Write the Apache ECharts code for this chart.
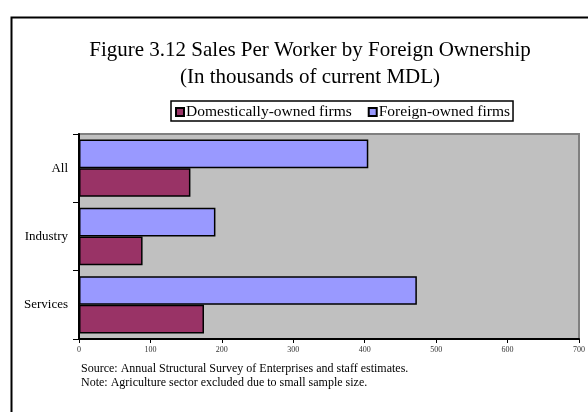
<!DOCTYPE html>
<html>
<head>
<meta charset="utf-8">
<script src="https://cdn.jsdelivr.net/npm/echarts@6/dist/echarts.min.js"></script>
<style>html,body{margin:0;padding:0;background:#fff;}#c{width:588px;height:412px;}</style>
</head>
<body>
<div id="c"></div>
<script>
const categories = ['Services', 'Industry', 'All'];
const domestic = [175, 89, 156];
const foreign = [473, 191, 405];
const xTicks = { min: 0, max: 700, interval: 100 };
const titleLines = ['Figure 3.12 Sales Per Worker by Foreign Ownership', '(In thousands of current MDL)'];
const notes = ['Source: Annual Structural Survey of Enterprises and staff estimates.', 'Note: Agriculture sector excluded due to small sample size.'];
const seriesNames = ['Domestically-owned firms', 'Foreign-owned firms'];

const serif = '"Liberation Serif", "Times New Roman", serif';
const chart = echarts.init(document.getElementById('c'), null, { renderer: 'canvas' });
chart.setOption({
  animation: false,
  backgroundColor: '#fff',
  title: {
    text: titleLines.join('\n'),
    left: 305, top: 32, textAlign: 'center',
    textStyle: { fontFamily: serif, fontSize: 21, fontWeight: 'normal', color: '#000', lineHeight: 27 }
  },
  legend: {
    data: seriesNames,
    left: 171, top: 101,
    padding: [3, 3, 1, 4],
    itemWidth: 8, itemHeight: 8, itemGap: 16,
    icon: 'rect',
    borderColor: '#000', borderWidth: 1.5,
    textStyle: { fontFamily: serif, fontSize: 15.5, color: '#000', padding: [4, 0, 0, -3] }
  },
  grid: {
    left: 79, right: 5, top: 134, bottom: 73,
    show: true, backgroundColor: '#C0C0C0', borderColor: '#808080', borderWidth: 2
  },
  xAxis: {
    type: 'value', min: xTicks.min, max: xTicks.max, interval: xTicks.interval,
    axisLine: { show: true, lineStyle: { color: '#000', width: 2 } },
    axisTick: { show: true, length: 4, lineStyle: { color: '#000' } },
    splitLine: { show: false },
    axisLabel: { fontFamily: serif, fontSize: 8, color: '#333', margin: 7 }
  },
  yAxis: {
    type: 'category', data: categories,
    axisLine: { show: true, lineStyle: { color: '#000', width: 2 } },
    axisTick: { show: true, length: 6, lineStyle: { color: '#000' } },
    axisLabel: { fontFamily: serif, fontSize: 13, color: '#000', margin: 11 }
  },
  series: [
    { name: seriesNames[1], type: 'bar', data: foreign, barGap: '0%', barCategoryGap: '16%',
      itemStyle: { color: '#9999FF', borderColor: '#000', borderWidth: 1.5 } },
    { name: seriesNames[0], type: 'bar', data: domestic, barGap: '0%', barCategoryGap: '16%',
      itemStyle: { color: '#993366', borderColor: '#000', borderWidth: 1.5 } }
  ],
  graphic: [
    { type: 'rect', left: 9, top: 15, shape: { width: 620, height: 430 }, silent: true,
      style: { fill: 'none', stroke: '#000', lineWidth: 2 } },
    { type: 'text', left: 81, top: 362,
      style: { text: notes.join('\n'), font: '12px ' + serif, fill: '#000', lineHeight: 14 } }
  ]
});
</script>
</body>
</html>
